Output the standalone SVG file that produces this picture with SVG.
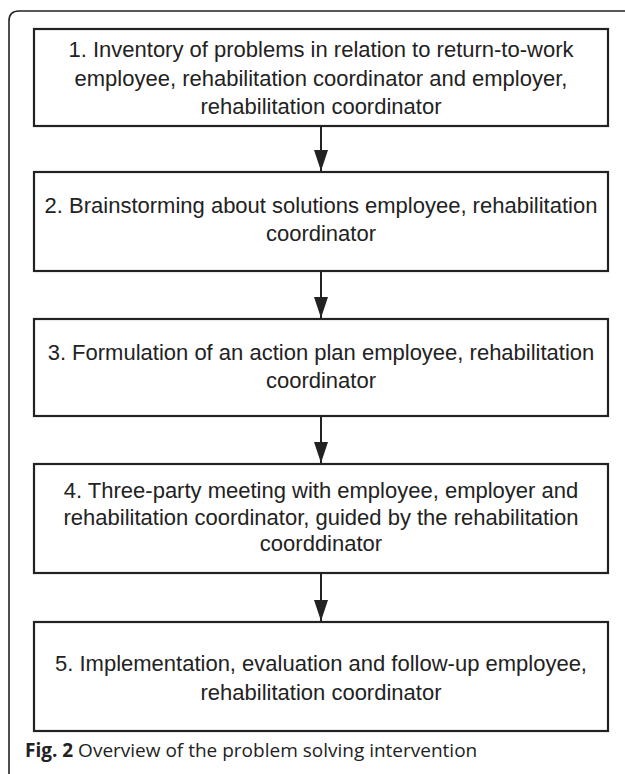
<svg xmlns="http://www.w3.org/2000/svg" width="625" height="774" viewBox="0 0 625 774">
<style>
.box{fill:#fff;stroke:#222;stroke-width:2.2}
.t{font-family:"Liberation Sans",Arial,sans-serif;font-size:22px;fill:#222;text-anchor:middle}
.con{stroke:#222;stroke-width:2;fill:none}
.cap{font-family:"Open Sans","Noto Sans",sans-serif;font-size:19px;fill:#222}
</style>
<defs>
<marker id="ah" markerWidth="21" markerHeight="14" refX="21" refY="7" orient="auto" markerUnits="userSpaceOnUse" viewBox="0 0 21 14">
<path d="M0 0 L21 7 L0 14 Z" fill="#222"/>
</marker>
</defs>
<path d="M9 774 V21 Q9 11 19 11 H625" fill="none" stroke="#222" stroke-width="1.6"/>
<g id="connectors">
<line class="con" x1="321" y1="126" x2="321" y2="171" marker-end="url(#ah)"/>
<line class="con" x1="321" y1="271" x2="321" y2="318" marker-end="url(#ah)"/>
<line class="con" x1="321" y1="416" x2="321" y2="463" marker-end="url(#ah)"/>
<line class="con" x1="321" y1="573" x2="321" y2="621" marker-end="url(#ah)"/>
</g>
<g id="node1">
<rect class="box" x="34" y="29" width="574" height="97"/>
<text class="t" x="321" y="57">1. Inventory of problems in relation to return-to-work</text>
<text class="t" x="321" y="86">employee, rehabilitation coordinator and employer,</text>
<text class="t" x="321" y="114">rehabilitation coordinator</text>
</g>
<g id="node2">
<rect class="box" x="34" y="172" width="574" height="99"/>
<text class="t" x="321" y="213">2. Brainstorming about solutions employee, rehabilitation</text>
<text class="t" x="321" y="241">coordinator</text>
</g>
<g id="node3">
<rect class="box" x="34" y="319" width="574" height="97"/>
<text class="t" x="321" y="360">3. Formulation of an action plan employee, rehabilitation</text>
<text class="t" x="321" y="388">coordinator</text>
</g>
<g id="node4">
<rect class="box" x="34" y="464" width="574" height="109"/>
<text class="t" x="321" y="498">4. Three-party meeting with employee, employer and</text>
<text class="t" x="321" y="525">rehabilitation coordinator, guided by the rehabilitation</text>
<text class="t" x="321" y="551">coorddinator</text>
</g>
<g id="node5">
<rect class="box" x="34" y="622" width="574" height="109"/>
<text class="t" x="321" y="671">5. Implementation, evaluation and follow-up employee,</text>
<text class="t" x="321" y="700">rehabilitation coordinator</text>
</g>
<text class="cap" x="25" y="757"><tspan font-weight="bold">Fig. 2</tspan> Overview of the problem solving intervention</text>
</svg>
